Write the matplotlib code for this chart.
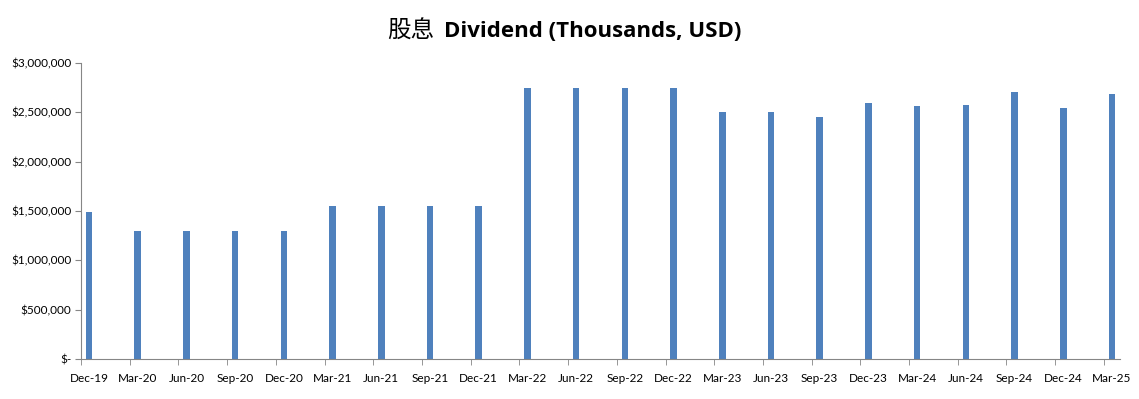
import matplotlib
matplotlib.use("Agg")
import matplotlib.pyplot as plt
from matplotlib.ticker import FuncFormatter

quarters = ["Dec-19", "Mar-20", "Jun-20", "Sep-20", "Dec-20", "Mar-21", "Jun-21",
            "Sep-21", "Dec-21", "Mar-22", "Jun-22", "Sep-22", "Dec-22", "Mar-23",
            "Jun-23", "Sep-23", "Dec-23", "Mar-24", "Jun-24", "Sep-24", "Dec-24", "Mar-25"]
dividend = [1490000, 1300000, 1300000, 1300000, 1300000, 1550000, 1550000,
            1550000, 1550000, 2750000, 2750000, 2750000, 2750000, 2500000,
            2500000, 2450000, 2600000, 2565000, 2575000, 2710000, 2545000, 2690000]

plt.rcParams['font.family'] = ['Lato', 'DejaVu Sans']

fig = plt.figure(figsize=(11.39, 3.99), dpi=100)
ax = fig.add_axes([0.0711, 0.1003, 0.9122, 0.7417])

pos = list(range(len(quarters)))
shift = 0.165
ax.bar([p + shift for p in pos], dividend, width=0.135, color="#4F81BD")

ax.set_xlim(0, 21.33)
ax.set_ylim(0, 3000000)
ax.set_yticks(range(0, 3000001, 500000))
ax.yaxis.set_major_formatter(FuncFormatter(lambda v, _: "$-" if v == 0 else "${:,.0f}".format(v)))

# tick marks on the quarter, labels under the bars
ax.set_xticks(pos, minor=True)
ax.set_xticks([p + shift for p in pos])
ax.set_xticklabels(quarters)
ax.tick_params(axis="x", which="major", length=0, pad=10, labelsize=8.5)
ax.tick_params(axis="x", which="minor", length=4, color="#868686", direction="out")
ax.tick_params(axis="y", length=4, color="#868686", labelsize=8.5, pad=3)

for s in ["top", "right"]:
    ax.spines[s].set_visible(False)
ax.spines["left"].set_color("#868686")
ax.spines["bottom"].set_color("#868686")

fig.text(0.381, 0.922, "股息", ha="right", va="center", fontsize=17,
         family=["Noto Sans CJK SC", "DejaVu Sans"])
fig.text(0.390, 0.922, "Dividend (Thousands, USD)", ha="left", va="center",
         fontsize=16, fontweight="bold", family=["Open Sans", "DejaVu Sans"])

fig.savefig("out.png", dpi=100)
